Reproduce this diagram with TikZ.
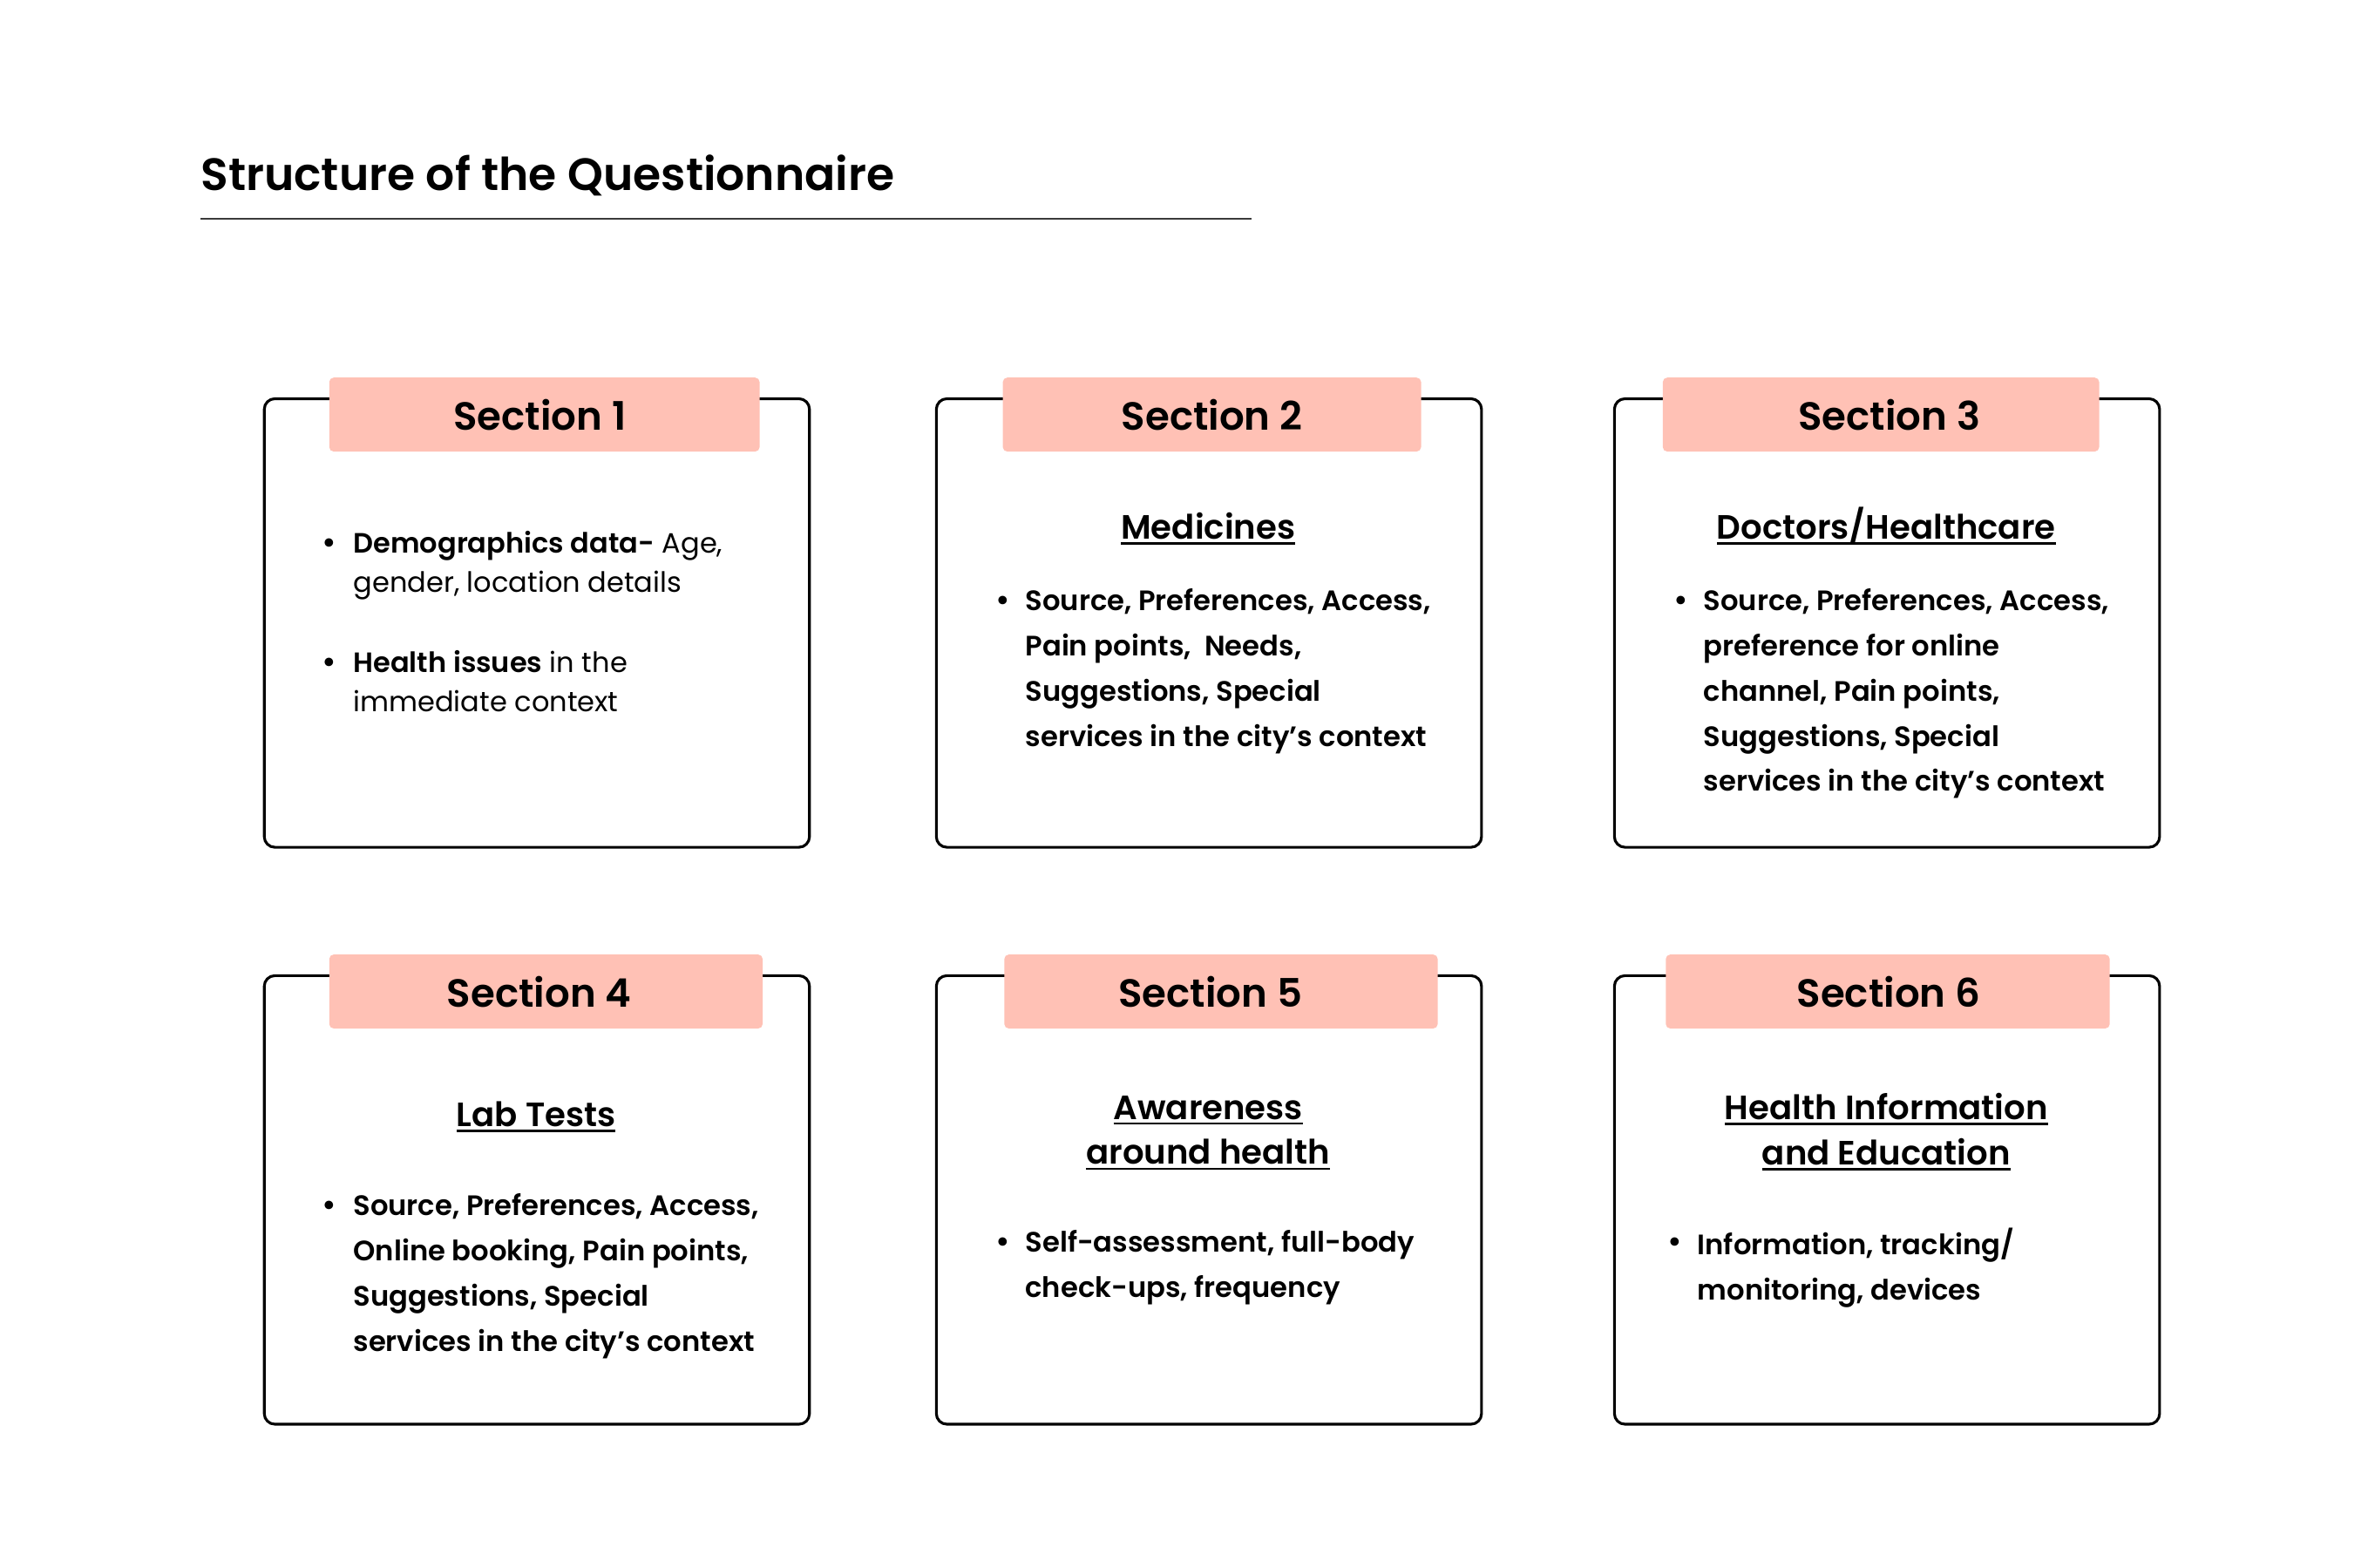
\documentclass[tikz,border=0pt]{standalone}
\usepackage{fontspec}
\setmainfont{Poppins}
\newfontfamily\psemi{Poppins SemiBold}
\definecolor{tabpink}{HTML}{FFC1B5}
\definecolor{rulegray}{HTML}{3A3A3A}
\newcommand\myul[1]{\setbox0\hbox{#1}\rlap{\rule[-3.5pt]{\wd0}{1.4pt}}\box0}
\newcommand\bstrut{\rule{0pt}{16pt}}
\begin{document}
\begin{tikzpicture}[x=1pt,y=-1pt,
  every node/.style={inner sep=0pt, outer sep=0pt},
  box/.style={draw=black, line width=1.8pt, rounded corners=7pt, anchor=north west, minimum width=361pt, minimum height=297pt},
  tab/.style={fill=tabpink, rounded corners=3pt, anchor=north west, minimum height=49pt},
  headtext/.style={font=\psemi\fontsize{26}{30}\selectfont},
  body/.style={font=\psemi\fontsize{18.6}{30}\selectfont, align=left, anchor=north west},
  bodyone/.style={font=\fontsize{18.5}{26}\selectfont, align=left, anchor=north west},
  subhead/.style={font=\psemi\fontsize{22.3}{30}\selectfont, align=center, anchor=north},
  bul/.style={font=\psemi\fontsize{20}{20}\selectfont, anchor=base},
  titlerule/.style={draw=rulegray, line width=1.2pt}
]
\useasboundingbox (0,0) rectangle (1568,1038);

% title
\node[anchor=base west, font=\psemi\fontsize{30}{32}\selectfont] (title) at (133,126) {Structure of the Questionnaire};
\coordinate (tl) at (133,145);
\coordinate (tr) at (829,145);
\draw[titlerule] (tl) -- (tr);

% boxes
\node[box] (box1) at (175,264) {};
\node[box] (box2) at (620,264) {};
\node[box] (box3) at (1069,264) {};
\node[box] (box4) at (175,646) {};
\node[box] (box5) at (620,646) {};
\node[box] (box6) at (1069,646) {};

% tabs
\node[tab, minimum width=285pt] (tab1) at (218,250) {};
\node[tab, minimum width=277pt] (tab2) at (664,250) {};
\node[tab, minimum width=289pt] (tab3) at (1101,250) {};
\node[tab, minimum width=287pt] (tab4) at (218,632) {};
\node[tab, minimum width=287pt] (tab5) at (665,632) {};
\node[tab, minimum width=294pt] (tab6) at (1103,632) {};
\node[headtext] (h1) at (357.5,274.5) {Section 1};
\node[headtext] (h2) at (802.5,274.5) {Section 2};
\node[headtext] (h3) at (1251,274.5) {Section 3};
\node[headtext] (h4) at (357,656.5) {Section 4};
\node[headtext] (h5) at (801.5,656.5) {Section 5};
\node[headtext] (h6) at (1250.5,656.5) {Section 6};

% section 1
\node[bul] (d1a) at (218,366) {•};
\node[bodyone] (t1a) at (234,350) {\bstrut{\psemi Demographics data-} Age,\\gender, location details};
\node[bul] (d1b) at (218,445) {•};
\node[bodyone] (t1b) at (234,429) {\bstrut{\psemi Health issues} in the\\immediate context};

% section 2
\node[subhead, anchor=base] (s2) at (800,357) {\myul{Medicines}};
\node[bul] (d2) at (664,404) {•};
\node[body] (t2) at (679,388) {\bstrut Source, Preferences, Access,\\Pain points,\ \ Needs,\\Suggestions, Special\\services in the city’s context};

% section 3
\node[subhead, anchor=base] (s3) at (1249,357) {\myul{Doctors/Healthcare}};
\node[bul] (d3) at (1113,404) {•};
\node[body] (t3) at (1128,388) {\bstrut Source, Preferences, Access,\\preference for online\\channel, Pain points,\\Suggestions, Special\\services in the city’s context};

% section 4
\node[subhead, anchor=base] (s4) at (355,746) {\myul{Lab Tests}};
\node[bul] (d4) at (218,805) {•};
\node[body] (t4) at (234,789) {\bstrut Source, Preferences, Access,\\Online booking, Pain points,\\Suggestions, Special\\services in the city’s context};

% section 5
\node[subhead] (s5) at (800,724) {\rule{0pt}{17pt}\myul{Awareness}\\\myul{around health}};
\node[bul] (d5) at (664,829) {•};
\node[body] (t5) at (679,813) {\bstrut Self-assessment, full-body\\check-ups, frequency};

% section 6
\node[subhead] (s6) at (1249,724) {\rule{0pt}{17pt}\myul{Health Information}\\\myul{and Education}};
\node[bul] (d6) at (1109,829) {•};
\node[body] (t6) at (1124,813) {\bstrut Information, tracking/\\monitoring, devices};
\end{tikzpicture}
\end{document}
